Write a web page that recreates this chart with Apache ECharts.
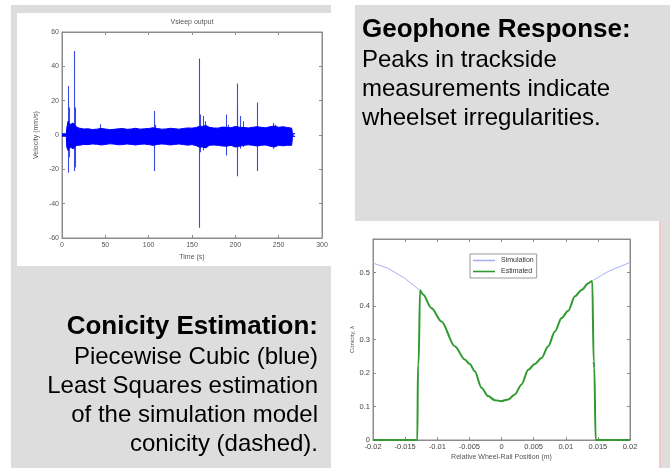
<!DOCTYPE html>
<html>
<head>
<meta charset="utf-8">
<script src="https://cdn.jsdelivr.net/npm/echarts@6/dist/echarts.min.js"></script>
<style>
  html, body { margin: 0; padding: 0; background: #fff; }
  #main { width: 670px; height: 468px; }
</style>
</head>
<body>
<div id="main"></div>
<script>
// geophone signal: envelope of the dense noise band (mm/s)
const bandTime = [0, 5, 5.5, 7, 9, 11, 13, 15, 17, 20, 25, 30, 35, 40, 45, 50, 55, 60, 65, 70, 75, 80, 85, 90, 95, 100, 105, 110, 115, 120, 125, 130, 135, 140, 145, 150, 155, 158, 162, 166, 170, 175, 180, 185, 190, 195, 200, 205, 210, 215, 220, 225, 230, 235, 240, 245, 250, 255, 260, 265, 266, 269];
const bandHigh = [0.7, 0.7, 4, 8, 6, 5, 7, 6, 4.5, 4, 3.5, 3.6, 3.2, 3.4, 3.8, 3.5, 3.1, 3.3, 3.6, 3.8, 3.3, 3.5, 3.9, 3.4, 3.6, 3.8, 4.2, 3.8, 3.4, 3.5, 3.9, 3.7, 3.4, 3.8, 4.1, 4, 4.4, 5, 5, 5.5, 4.5, 4.1, 4, 4.6, 4.5, 4.2, 5, 4.5, 4.4, 4.1, 4.5, 4.8, 4.5, 4.2, 4.8, 5.2, 4.5, 4.8, 4.4, 4.0, 0.8, 0.8];
const bandLow = [-0.7, -0.7, -7, -9, -7, -6, -8, -7, -6, -6, -5.5, -5.6, -5.2, -5.4, -5.8, -5.5, -5.1, -5.3, -5.7, -5.6, -5.2, -5.5, -5.8, -5.4, -5.3, -5.6, -6, -5.5, -5.2, -5.4, -5.8, -5.5, -5.2, -5.6, -5.9, -5.6, -6.2, -7, -7, -7.5, -6, -5.8, -6, -6.4, -6.5, -6, -7, -6.5, -6, -5.7, -6, -6.4, -6, -5.8, -6.5, -7, -6, -6.3, -6, -6, -0.8, -0.8];

// isolated spikes (time s, max, min)
const spikeTime = [7.3, 8.2, 13.9, 14.8, 44, 107, 108, 158.6, 159.5, 163, 165, 190, 191.5, 201.8, 202.5, 205.6, 209.5, 224.9, 244, 246];
const spikeHigh = [28.5, 16, 49, 16, 6.2, 14, 6, 44.5, 12, 11, 8, 12, 6, 30, 17, 11, 8, 19, 7, 6];
const spikeLow = [-22, -13, -21, -19, -3, -21, -4, -54, -10, -9, -6, -12, -6, -24, -10, -8, -7, -21, -8, -5];

const timeTicks = [0, 50, 100, 150, 200, 250, 300];

// conicity vs relative wheel-rail position
const posEst = [-0.02, -0.0131, -0.013, -0.0129, -0.01268, -0.01221, -0.01091, -0.00935, -0.00727, -0.00571, -0.00494, -0.00416, -0.00312, -0.00208, -0.00104, 0, 0.00104, 0.00208, 0.00312, 0.00416, 0.00519, 0.00623, 0.00727, 0.00831, 0.00935, 0.01039, 0.01143, 0.01247, 0.01351, 0.01413, 0.01434, 0.01445, 0.01465, 0.02];
const estimated = [0, 0, 0.225, 0.228, 0.447, 0.434, 0.394, 0.354, 0.28, 0.24, 0.227, 0.205, 0.156, 0.131, 0.119, 0.116, 0.121, 0.136, 0.166, 0.21, 0.227, 0.245, 0.28, 0.324, 0.364, 0.386, 0.429, 0.448, 0.468, 0.475, 0.235, 0.215, 0, 0];
const posSim = [-0.02, -0.0177, -0.0151, -0.0127, null, 0.0143, 0.0166, 0.02];
const simulation = [0.528, 0.513, 0.483, 0.447, null, 0.477, 0.503, 0.53];

const chart = echarts.init(document.getElementById("main"));

const pair = (xs, ys) => xs.map((x, i) => (x === null ? "-" : [x, ys[i]]));

const axisGray = "#8c8c8c";
const labelGray = "#555";
const simColor = "#a9b0f6";
const estColor = "#2f9a2f";

const boxAxis = (gridIndex, pos, extra) => Object.assign({
    gridIndex: gridIndex,
    type: "value",
    position: pos,
    axisLine: { show: true, onZero: false, lineStyle: { color: axisGray, width: 1 } },
    axisTick: { show: true, inside: true, length: 3, lineStyle: { color: axisGray } },
    splitLine: { show: false },
    axisLabel: { show: false }
}, extra);

const option = {
    animation: false,
    backgroundColor: "#fff",
    textStyle: { fontFamily: "Liberation Sans, Arial, sans-serif" },
    graphic: [
        { type: "rect", z: -10, shape: { x: 11, y: 5, width: 320, height: 463 }, style: { fill: "#dddddd" } },
        { type: "rect", z: -9, shape: { x: 17, y: 13, width: 314, height: 253 }, style: { fill: "#fff" } },
        { type: "rect", z: -10, shape: { x: 355, y: 5, width: 315, height: 463 }, style: { fill: "#dddddd" } },
        { type: "rect", z: -9, shape: { x: 340, y: 221, width: 319, height: 247 }, style: { fill: "#fff" } },
        { type: "rect", z: -9, shape: { x: 659, y: 221, width: 2, height: 247 }, style: { fill: "#f6c9c9" } },
        { type: "text", x: 192, y: 22, style: { text: "Vsleep output", fontSize: 7, fill: labelGray, textAlign: "center", textVerticalAlign: "middle" } },
        { type: "text", x: 362, y: 30, style: { text: "Geophone Response:", font: "bold 26px Liberation Sans", fill: "#000", textVerticalAlign: "middle" } },
        { type: "text", x: 362, y: 60, style: { text: "Peaks in trackside", font: "24px Liberation Sans", fill: "#000", textVerticalAlign: "middle" } },
        { type: "text", x: 362, y: 89, style: { text: "measurements indicate", font: "24px Liberation Sans", fill: "#000", textVerticalAlign: "middle" } },
        { type: "text", x: 362, y: 118, style: { text: "wheelset irregularities.", font: "24px Liberation Sans", fill: "#000", textVerticalAlign: "middle" } },
        { type: "text", x: 318, y: 327, style: { text: "Conicity Estimation:", font: "bold 26px Liberation Sans", fill: "#000", textAlign: "right", textVerticalAlign: "middle" } },
        { type: "text", x: 318, y: 357, style: { text: "Piecewise Cubic (blue)", font: "24px Liberation Sans", fill: "#000", textAlign: "right", textVerticalAlign: "middle" } },
        { type: "text", x: 318, y: 386, style: { text: "Least Squares estimation", font: "24px Liberation Sans", fill: "#000", textAlign: "right", textVerticalAlign: "middle" } },
        { type: "text", x: 318, y: 415, style: { text: "of the simulation model", font: "24px Liberation Sans", fill: "#000", textAlign: "right", textVerticalAlign: "middle" } },
        { type: "text", x: 318, y: 444, style: { text: "conicity (dashed).", font: "24px Liberation Sans", fill: "#000", textAlign: "right", textVerticalAlign: "middle" } }
    ],
    grid: [
        { left: 62, top: 32, width: 260, height: 206, outerBoundsMode: "none", show: true, backgroundColor: "#fff", borderColor: axisGray, borderWidth: 1 },
        { left: 373, top: 239, width: 257, height: 201, outerBoundsMode: "none", show: true, backgroundColor: "#fff", borderColor: axisGray, borderWidth: 1 }
    ],
    legend: {
        data: [
            { name: "Simulation", icon: "rect", itemStyle: { color: simColor } },
            { name: "Estimated", icon: "rect", itemStyle: { color: estColor } }
        ],
        orient: "vertical",
        left: 470,
        top: 254,
        padding: [3, 3, 3, 3],
        itemGap: 4,
        itemWidth: 22,
        itemHeight: 1.6,
        backgroundColor: "#fff",
        borderColor: "#999",
        borderWidth: 1,
        borderRadius: 0,
        textStyle: { fontSize: 7, color: "#333", padding: [0, 0, 0, 1] }
    },
    xAxis: [
        boxAxis(0, "bottom", {
            min: timeTicks[0], max: timeTicks[timeTicks.length - 1], interval: 50,
            name: "Time (s)", nameLocation: "middle", nameGap: 16,
            nameTextStyle: { fontSize: 7, color: labelGray },
            axisLabel: { show: true, fontSize: 7, color: labelGray, margin: 4 }
        }),
        boxAxis(0, "top", { min: 0, max: 300, interval: 50 }),
        boxAxis(1, "bottom", {
            min: -0.02, max: 0.02, interval: 0.005,
            name: "Relative Wheel-Rail Position (m)", nameLocation: "middle", nameGap: 14,
            nameTextStyle: { fontSize: 7, color: labelGray },
            axisLabel: { show: true, fontSize: 7.5, color: "#444", margin: 3 }
        }),
        boxAxis(1, "top", { min: -0.02, max: 0.02, interval: 0.005 })
    ],
    yAxis: [
        boxAxis(0, "left", {
            min: -60, max: 60, interval: 20,
            name: "Velocity (mm/s)", nameLocation: "middle", nameGap: 22,
            nameTextStyle: { fontSize: 7, color: labelGray },
            axisLabel: { show: true, fontSize: 7, color: labelGray, margin: 3 }
        }),
        boxAxis(0, "right", { min: -60, max: 60, interval: 20 }),
        boxAxis(1, "left", {
            min: 0, max: 0.6, interval: 0.1,
            name: "Conicity, λ", nameLocation: "middle", nameGap: 18,
            nameTextStyle: { fontSize: 6, color: labelGray },
            axisLabel: { show: true, fontSize: 7.5, color: "#444", margin: 3, showMaxLabel: false }
        }),
        boxAxis(1, "right", { min: 0, max: 0.6, interval: 0.1 })
    ],
    series: [
        {
            name: "band high",
            type: "line",
            xAxisIndex: 0, yAxisIndex: 0,
            data: pair(bandTime, bandHigh),
            symbol: "none",
            lineStyle: { color: "#0000ff", width: 1 },
            areaStyle: { color: "#0000ff", opacity: 1, origin: 0 },
            z: 3
        },
        {
            name: "band low",
            type: "line",
            xAxisIndex: 0, yAxisIndex: 0,
            data: pair(bandTime, bandLow),
            symbol: "none",
            lineStyle: { color: "#0000ff", width: 1 },
            areaStyle: { color: "#0000ff", opacity: 1, origin: 0 },
            z: 3
        },
        {
            name: "spikes",
            type: "lines",
            coordinateSystem: "cartesian2d",
            xAxisIndex: 0, yAxisIndex: 0,
            data: spikeTime.map((t, i) => ({ coords: [[t, spikeLow[i]], [t, spikeHigh[i]]] })),
            lineStyle: { color: "#3a4ae0", width: 1.1, opacity: 1 },
            z: 2
        },
        {
            name: "Simulation",
            type: "line",
            xAxisIndex: 2, yAxisIndex: 2,
            data: pair(posSim, simulation),
            symbol: "none",
            lineStyle: { color: simColor, width: 1 },
            itemStyle: { color: simColor }
        },
        {
            name: "Estimated",
            type: "line",
            xAxisIndex: 2, yAxisIndex: 2,
            data: pair(posEst, estimated),
            symbol: "none",
            smooth: 0.3,
            smoothMonotone: "x",
            lineStyle: { color: estColor, width: 2 },
            itemStyle: { color: estColor }
        }
    ]
};

chart.setOption(option);
</script>
</body>
</html>
